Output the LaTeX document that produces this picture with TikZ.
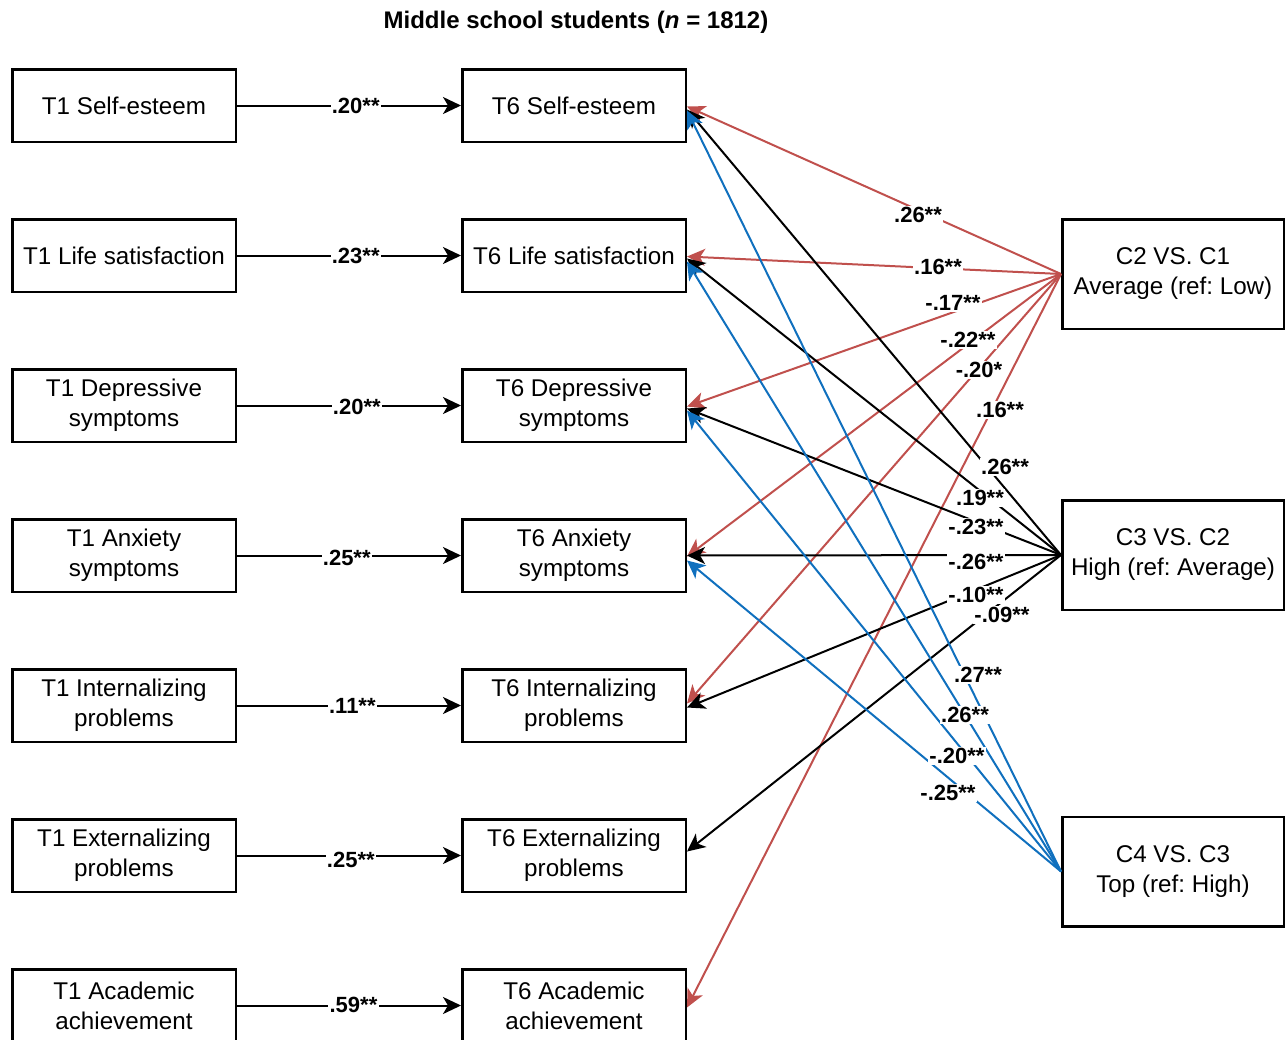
\documentclass[tikz,border=0pt]{standalone}
\usepackage{fontspec}
\setmainfont{Liberation Sans}
\usetikzlibrary{arrows.meta}
\definecolor{myred}{RGB}{192,80,77}
\definecolor{myblue}{RGB}{16,112,190}
\frenchspacing
\begin{document}
\begin{tikzpicture}[x=0.5pt,y=-0.5pt,
  box/.style={draw, line width=1.25pt, minimum width=111.75pt, minimum height=36.25pt,
    inner sep=0pt, align=center, font=\fontsize{12.1}{15}\selectfont},
  cbox/.style={box, minimum width=110.75pt, minimum height=54.75pt},
  lbl/.style={fill=white, inner sep=0.6pt, font=\bfseries\fontsize{11}{12}\selectfont},
  conn/.style={line width=1pt, -{Stealth[length=9pt,width=8.5pt,inset=2.5pt]}},
  redc/.style={conn, color=myred},
  blackc/.style={conn, color=black},
  bluec/.style={conn, color=myblue},
  title/.style={font=\bfseries\fontsize{12}{14}\selectfont}
]
\useasboundingbox (0,0) rectangle (1287,1040);

\node[title] (ttl) at (576,22) {Middle school students (\textit{n} = 1812)};

% left column
\node[box] (a1) at (124,105.5) {T1 Self-esteem};
\node[box] (a2) at (124,255.5) {T1 Life satisfaction};
\node[box] (a3) at (124,405.5) {T1 Depressive\\symptoms};
\node[box] (a4) at (124,555.5) {T1 Anxiety\\symptoms};
\node[box] (a5) at (124,705.5) {T1 Internalizing\\problems};
\node[box] (a6) at (124,855.5) {T1 Externalizing\\problems};
\node[box] (a7) at (124,1005.5) {T1 Academic\\achievement};

% middle column
\node[box] (b1) at (574,105.5) {T6 Self-esteem};
\node[box] (b2) at (574,255.5) {T6 Life satisfaction};
\node[box] (b3) at (574,405.5) {T6 Depressive\\symptoms};
\node[box] (b4) at (574,555.5) {T6 Anxiety\\symptoms};
\node[box] (b5) at (574,705.5) {T6 Internalizing\\problems};
\node[box] (b6) at (574,855.5) {T6 Externalizing\\problems};
\node[box] (b7) at (574,1005.5) {T6 Academic\\achievement};

% right column
\node[cbox] (c2) at (1173,274) {C2 VS. C1\\Average (ref: Low)};
\node[cbox] (c3) at (1173,555) {C3 VS. C2\\High (ref: Average)};
\node[cbox] (c4) at (1173,871.5) {C4 VS. C3\\Top (ref: High)};

% horizontal paths
\draw[blackc] (a1.east) -- coordinate[pos=0.53] (h1) (b1.west);
\draw[blackc] (a2.east) -- coordinate[pos=0.53] (h2) (b2.west);
\draw[blackc] (a3.east) -- coordinate[pos=0.535] (h3) (b3.west);
\draw[blackc] (a4.east) -- coordinate[pos=0.49] (h4) (b4.west);
\draw[blackc] (a5.east) -- coordinate[pos=0.515] (h5) (b5.west);
\draw[blackc] (a6.east) -- coordinate[pos=0.508] (h6) (b6.west);
\draw[blackc] (a7.east) -- coordinate[pos=0.52] (h7) (b7.west);

% red paths from C2
\draw[redc] (c2.west) -- ([yshift=-0.5pt]b1.east);
\draw[redc] (c2.west) -- ([yshift=-0.5pt]b2.east);
\draw[redc] (c2.west) -- ([yshift=-0.5pt]b3.east);
\draw[redc] (c2.west) -- ([yshift=-0.5pt]b4.east);
\draw[redc] (c2.west) -- ([yshift=1pt]b5.east);
\draw[redc] (c2.west) -- ([yshift=-1pt]b7.east);

% black paths from C3
\draw[blackc] (c3.west) -- ([yshift=-2pt]b1.east);
\draw[blackc] (c3.west) -- ([yshift=-1.5pt]b2.east);
\draw[blackc] (c3.west) -- ([yshift=-1.5pt]b3.east);
\draw[blackc] (c3.west) -- (b4.east);
\draw[blackc] (c3.west) -- ([yshift=-1pt]b5.east);
\draw[blackc] (c3.west) -- ([yshift=2pt]b6.east);

% blue paths from C4
\draw[bluec] (c4.west) -- ([yshift=-2.5pt]b1.east);
\draw[bluec] (c4.west) -- ([yshift=-3pt]b2.east);
\draw[bluec] (c4.west) -- ([yshift=-2.5pt]b3.east);
\draw[bluec] (c4.west) -- ([yshift=-2.5pt]b4.east);

% labels horizontal
\node[lbl] (lh1) at ([yshift=0pt]h1) {.20**};
\node[lbl] (lh2) at (h2) {.23**};
\node[lbl] (lh3) at ([yshift=-0.5pt]h3) {.20**};
\node[lbl] (lh4) at ([yshift=-1pt]h4) {.25**};
\node[lbl] (lh5) at (h5) {.11**};
\node[lbl] (lh6) at ([yshift=-2pt]h6) {.25**};
\node[lbl] (lh7) at ([yshift=0.5pt]h7) {.59**};

% labels red
\node[lbl] (lr1) at (918,215) {.26**};
\node[lbl] (lr2) at (938,266.5) {.16**};
\node[lbl] (lr3) at (953,303) {-.17**};
\node[lbl] (lr4) at (968,340) {-.22**};
\node[lbl] (lr5) at (979,370) {-.20*};
\node[lbl] (lr6) at (1000,410) {.16**};

% labels black
\node[lbl] (lk1) at (1005,467) {.26**};
\node[lbl] (lk2) at (980,498) {.19**};
\node[lbl] (lk3) at (976,527) {-.23**};
\node[lbl] (lk4) at (976,562) {-.26**};
\node[lbl] (lk5) at (976,595) {-.10**};
\node[lbl] (lk6) at (1002,615) {-.09**};

% labels blue
\node[lbl] (lb1) at (978,675) {.27**};
\node[lbl] (lb2) at (965,715) {.26**};
\node[lbl] (lb3) at (957,756) {-.20**};
\node[lbl] (lb4) at (948,793) {-.25**};
\end{tikzpicture}
\end{document}
